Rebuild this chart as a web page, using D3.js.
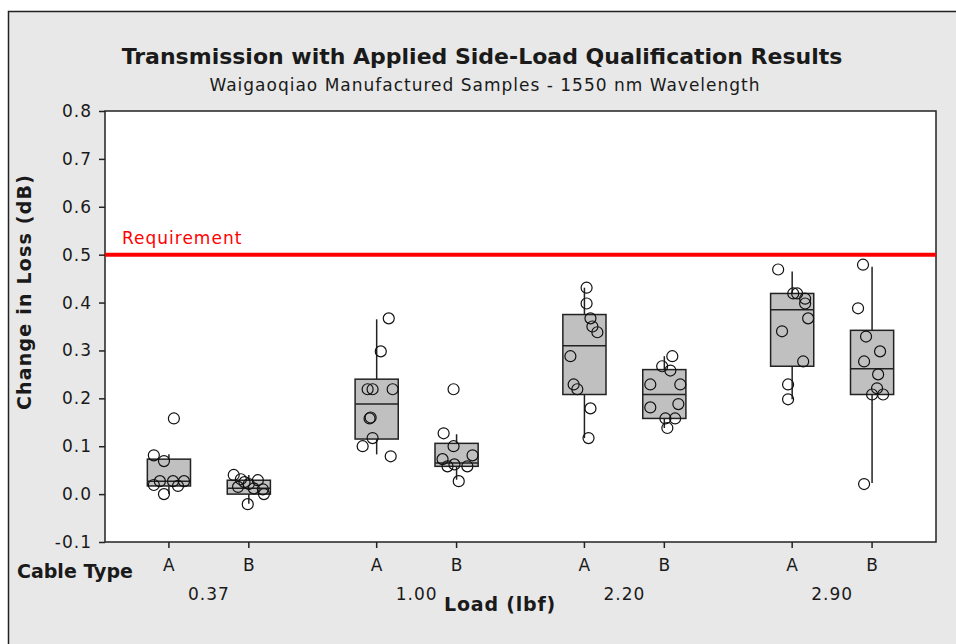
<!DOCTYPE html>
<html>
<head>
<meta charset="utf-8">
<script src="https://cdn.jsdelivr.net/npm/d3@7"></script>
<style>
  body { margin: 0; background: #fff; }
  text { font-family: "DejaVu Sans", sans-serif; fill: #1a1a1a; }
</style>
</head>
<body>
<script>
// categories
var loads = ["0.37", "1.00", "2.20", "2.90"];
var cableTypes = ["A", "B"];
var yTicks = [-0.1, 0.0, 0.1, 0.2, 0.3, 0.4, 0.5, 0.6, 0.7, 0.8];
var requirement = 0.5;

// box stats, order: 0.37A, 0.37B, 1.00A, 1.00B, 2.20A, 2.20B, 2.90A, 2.90B
var q1 =        [0.017, 0.000, 0.115, 0.058, 0.208, 0.158, 0.267, 0.208];
var medians =   [0.027, 0.012, 0.188, 0.065, 0.310, 0.208, 0.385, 0.262];
var q3 =        [0.073, 0.029, 0.240, 0.106, 0.375, 0.260, 0.419, 0.342];
var whiskerLo = [0.000, -0.020, 0.083, 0.030, 0.117, 0.138, 0.198, 0.023];
var whiskerHi = [0.083, 0.040, 0.365, 0.125, 0.431, 0.288, 0.465, 0.475];

// individual values and their jitter (fraction of half box width)
var pointValues = [
  [0.158, 0.081, 0.069, 0.027, 0.027, 0.027, 0.019, 0.017, 0.000],
  [0.040, 0.031, 0.029, 0.021, 0.010, 0.012, 0.000, 0.015, -0.021, 0.025],
  [0.367, 0.298, 0.219, 0.219, 0.219, 0.158, 0.160, 0.117, 0.100, 0.079],
  [0.219, 0.127, 0.100, 0.073, 0.081, 0.058, 0.062, 0.058, 0.027],
  [0.431, 0.398, 0.367, 0.350, 0.338, 0.288, 0.229, 0.219, 0.179, 0.117],
  [0.288, 0.267, 0.258, 0.229, 0.229, 0.181, 0.188, 0.158, 0.158, 0.138],
  [0.469, 0.419, 0.419, 0.408, 0.398, 0.367, 0.340, 0.277, 0.229, 0.198],
  [0.479, 0.388, 0.329, 0.298, 0.277, 0.250, 0.221, 0.208, 0.208, 0.021]
];
var pointJitter = [
  [0.23, -0.7, -0.23, -0.42, 0.19, 0.7, -0.7, 0.42, -0.23],
  [-0.7, -0.37, 0.42, 0, 0.65, 0.23, 0.7, -0.5, -0.05, -0.2],
  [0.56, 0.19, -0.42, -0.19, 0.74, -0.33, -0.28, -0.19, -0.65, 0.65],
  [-0.14, -0.6, -0.14, -0.65, 0.74, -0.42, -0.1, 0.5, 0.1],
  [0.1, 0.1, 0.28, 0.37, 0.6, -0.65, -0.5, -0.33, 0.28, 0.19],
  [0.37, -0.1, 0.28, -0.65, 0.74, -0.65, 0.65, 0.05, 0.5, 0.14],
  [-0.65, 0.05, 0.23, 0.6, 0.6, 0.74, -0.47, 0.51, -0.19, -0.19],
  [-0.42, -0.65, -0.28, 0.37, -0.37, 0.28, 0.23, 0, 0.51, -0.37]
];

var W = 956, H = 644;
var margin = {top: 111, right: 20, bottom: 102, left: 105};

var svg = d3.select("body").append("svg")
    .attr("width", W)
    .attr("height", H);

// outer frame
svg.append("rect")
    .attr("x", 8.5).attr("y", 11.5)
    .attr("width", W + 10).attr("height", H + 10)
    .attr("fill", "#e8e8e8")
    .attr("stroke", "#222")
    .attr("stroke-width", 1.5);

var x0 = d3.scaleBand().domain(loads).range([margin.left, W - margin.right]);
var x1 = d3.scalePoint().domain(cableTypes).range([0, x0.bandwidth()]).padding(0.8);
var y = d3.scaleLinear().domain([-0.1, 0.8]).range([H - margin.bottom, margin.top]);

var boxW = x1.step() * 0.54;
var jit = d3.scaleLinear().domain([-1, 1]).range([-boxW / 2, boxW / 2]);

// groups flattened
var groups = [];
loads.forEach(function(l){
  cableTypes.forEach(function(c){ groups.push({load: l, type: c}); });
});
groups.forEach(function(g, i){
  g.cx = x0(g.load) + x1(g.type);
  g.i = i;
});

// plot area
svg.append("rect")
    .attr("x", margin.left).attr("y", margin.top)
    .attr("width", W - margin.right - margin.left)
    .attr("height", H - margin.bottom - margin.top)
    .attr("fill", "#fff")
    .attr("stroke", "#222")
    .attr("stroke-width", 1.5);

// y axis
var yAxis = svg.append("g")
    .attr("transform", "translate(" + margin.left + ",0)")
    .call(d3.axisLeft(y).tickValues(yTicks).tickSize(6).tickPadding(7)
      .tickFormat(function(d){ return d.toFixed(1); }));
yAxis.select(".domain").remove();
yAxis.selectAll("line").attr("stroke", "#222").attr("stroke-width", 1.5);
yAxis.selectAll("text").style("font-size", "17px").attr("fill", "#1a1a1a")
    .style("font-family", "DejaVu Sans").style("letter-spacing", "1px");

// x ticks
svg.append("g").selectAll("line")
    .data(groups).join("line")
    .attr("x1", function(d){ return d.cx; })
    .attr("x2", function(d){ return d.cx; })
    .attr("y1", y(-0.1)).attr("y2", y(-0.1) + 6)
    .attr("stroke", "#222").attr("stroke-width", 1.5);

svg.append("g").selectAll("text")
    .data(groups).join("text")
    .attr("x", function(d){ return d.cx; })
    .attr("y", 571)
    .attr("text-anchor", "middle")
    .style("font-size", "17px")
    .text(function(d){ return d.type; });

svg.append("g").selectAll("text")
    .data(loads).join("text")
    .attr("x", function(d){ return x0(d) + x0.bandwidth() / 2; })
    .attr("y", 600)
    .attr("text-anchor", "middle")
    .style("font-size", "17px").style("letter-spacing", "1px")
    .text(function(d){ return d; });

// requirement line
svg.append("line")
    .attr("x1", margin.left).attr("x2", W - margin.right)
    .attr("y1", y(requirement)).attr("y2", y(requirement))
    .attr("stroke", "#ff0000").attr("stroke-width", 4);
svg.append("text")
    .attr("x", 122).attr("y", y(requirement) - 11)
    .style("font-size", "17px").style("letter-spacing", "1px")
    .style("fill", "#ff0000")
    .text("Requirement");

// whiskers
var bx = svg.append("g");
bx.selectAll("line.wh")
    .data(groups).join("line")
    .attr("class", "wh")
    .attr("x1", function(d){ return d.cx; })
    .attr("x2", function(d){ return d.cx; })
    .attr("y1", function(d){ return y(q3[d.i]); })
    .attr("y2", function(d){ return y(whiskerHi[d.i]); })
    .attr("stroke", "#222").attr("stroke-width", 1.5);
bx.selectAll("line.wl")
    .data(groups).join("line")
    .attr("class", "wl")
    .attr("x1", function(d){ return d.cx; })
    .attr("x2", function(d){ return d.cx; })
    .attr("y1", function(d){ return y(q1[d.i]); })
    .attr("y2", function(d){ return y(whiskerLo[d.i]); })
    .attr("stroke", "#222").attr("stroke-width", 1.5);

// boxes
bx.selectAll("rect")
    .data(groups).join("rect")
    .attr("x", function(d){ return d.cx - boxW / 2; })
    .attr("width", boxW)
    .attr("y", function(d){ return y(q3[d.i]); })
    .attr("height", function(d){ return y(q1[d.i]) - y(q3[d.i]); })
    .attr("fill", "#c0c0c0")
    .attr("stroke", "#222").attr("stroke-width", 1.5);
bx.selectAll("line.med")
    .data(groups).join("line")
    .attr("class", "med")
    .attr("x1", function(d){ return d.cx - boxW / 2; })
    .attr("x2", function(d){ return d.cx + boxW / 2; })
    .attr("y1", function(d){ return y(medians[d.i]); })
    .attr("y2", function(d){ return y(medians[d.i]); })
    .attr("stroke", "#222").attr("stroke-width", 1.5);

// individual points
groups.forEach(function(g){
  svg.append("g").selectAll("circle")
      .data(pointValues[g.i]).join("circle")
      .attr("cx", function(d, k){ return g.cx + jit(pointJitter[g.i][k]); })
      .attr("cy", function(d){ return y(d); })
      .attr("r", 5.5)
      .attr("fill", "none")
      .attr("stroke", "#111")
      .attr("stroke-width", 1.2);
});

// titles
svg.append("text")
    .attr("x", 482).attr("y", 64)
    .attr("text-anchor", "middle")
    .style("font-size", "22px").style("font-weight", "bold")
    .text("Transmission with Applied Side-Load Qualification Results");
svg.append("text")
    .attr("x", 485).attr("y", 91)
    .attr("text-anchor", "middle")
    .style("font-size", "17px").style("letter-spacing", "1px")
    .text("Waigaoqiao Manufactured Samples - 1550 nm Wavelength");

svg.append("text")
    .attr("transform", "translate(31,292) rotate(-90)")
    .attr("text-anchor", "middle")
    .style("font-size", "19px").style("font-weight", "bold")
    .style("letter-spacing", "1.2px")
    .text("Change in Loss  (dB)");
svg.append("text")
    .attr("x", 17).attr("y", 578)
    .style("font-size", "19px").style("font-weight", "bold")
    .text("Cable Type");
svg.append("text")
    .attr("x", 500).attr("y", 611)
    .attr("text-anchor", "middle")
    .style("font-size", "19px").style("font-weight", "bold")
    .style("letter-spacing", "0.8px")
    .text("Load  (lbf)");
</script>
</body>
</html>
